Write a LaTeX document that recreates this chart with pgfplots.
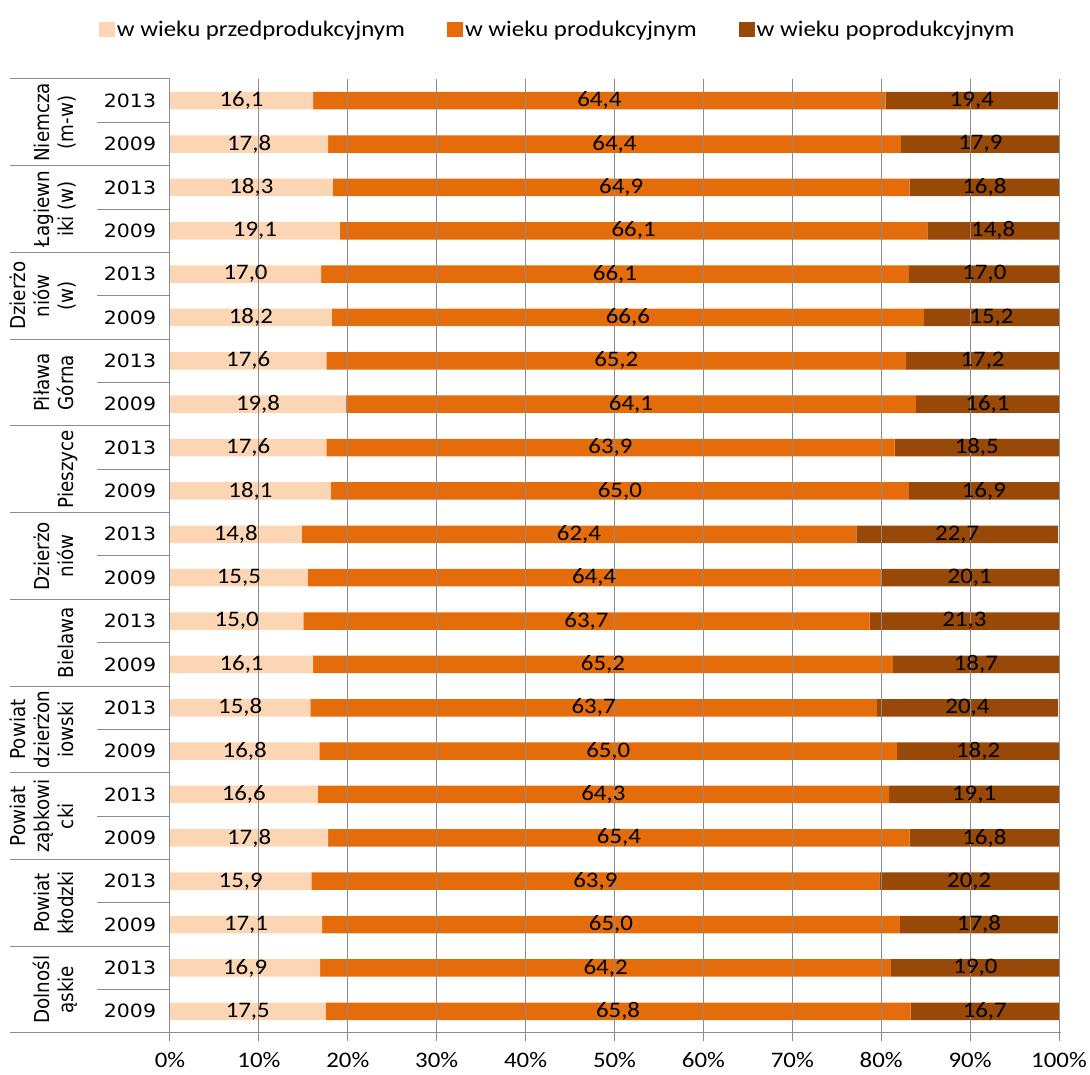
\documentclass[border=0pt]{standalone}
\usepackage{fontspec}
\setmainfont[FakeStretch=1.12]{Carlito}
\newfontfamily\yearfont[FakeStretch=1.12]{DejaVu Sans}
\newfontfamily\grpfont{DejaVu Sans}
\usepackage{pgfplots}
\usepackage{pgfplotstable}
\pgfplotsset{compat=1.18}

\definecolor{cLight}{RGB}{252,213,181}
\definecolor{cMid}{RGB}{228,108,10}
\definecolor{cDark}{RGB}{152,72,7}
\definecolor{gridc}{RGB}{140,140,140}

% rows from bottom (Dolnośląskie 2009) to top (Niemcza 2013)
\pgfplotstableread{
y a b c
0 17.5 65.8 16.7
1 16.9 64.2 19.0
2 17.1 65.0 17.8
3 15.9 63.9 20.2
4 17.8 65.4 16.8
5 16.6 64.3 19.1
6 16.8 65.0 18.2
7 15.8 63.7 20.4
8 16.1 65.2 18.7
9 15.0 63.7 21.3
10 15.5 64.4 20.1
11 14.8 62.4 22.7
12 18.1 65.0 16.9
13 17.6 63.9 18.5
14 19.8 64.1 16.1
15 17.6 65.2 17.2
16 18.2 66.6 15.2
17 17.0 66.1 17.0
18 19.1 66.1 14.8
19 18.3 64.9 16.8
20 17.8 64.4 17.9
21 16.1 64.4 19.4
}\data

\newcommand\mainsize{\fontsize{22.2}{26}\selectfont}

\begin{document}
\begin{tikzpicture}
\useasboundingbox (-170pt,-42pt) rectangle (920pt,1033pt);
\begin{axis}[
  at={(0pt,0pt)}, anchor=south west,
  scale only axis, width=890.78pt, height=954pt,
  xbar stacked, bar width=17.5pt,
  xmin=0, xmax=100.2, ymin=-0.5, ymax=21.5,
  axis on top,
  axis x line*=bottom, axis y line*=left,
  axis line style={draw=gridc, line width=1pt, -},
  xmajorgrids, grid style={draw=gridc, line width=1pt},
  xtick={0,10,...,100},
  xtick align=outside, major tick length=8pt,
  x tick style={draw=gridc, line width=1pt},
  xticklabel={\pgfmathprintnumber[assume math mode=true]{\tick}\%},
  xticklabel style={font=\mainsize, anchor=center, yshift=-19pt},
  ytick={0,...,21},
  yticklabels={2009,2013,2009,2013,2009,2013,2009,2013,2009,2013,2009,2013,2009,2013,2009,2013,2009,2013,2009,2013,2009,2013},
  y tick style={draw=none},
  yticklabel style={font=\yearfont\fontsize{18.3}{22}\selectfont, anchor=center, xshift=-40pt},
  visualization depends on=rawx\as\rawx,
  nodes near coords={\pgfmathprintnumber[fixed,fixed zerofill,precision=1,use comma,assume math mode=true]{\rawx}},
  every node near coord/.append style={font=\mainsize, anchor=center, text=black},
  legend columns=3,
  legend style={at={(0.4353,1.0515)}, anchor=center, draw=none, fill=none, font=\mainsize,
    /tikz/every even column/.append style={column sep=40pt}},
  legend image code/.code={\fill[#1] (0pt,-7.5pt) rectangle (16pt,7.5pt);},
]
\addplot[fill=cLight, draw=none] table[x=a, y=y] {\data};
\addplot[fill=cMid, draw=none] table[x=b, y=y] {\data};
\addplot[fill=cDark, draw=none] table[x=c, y=y] {\data};
\legend{w wieku przedprodukcyjnym, w wieku produkcyjnym, w wieku poprodukcyjnym}
\end{axis}
% category table lines
\foreach \k in {0,...,11} {
  \draw[gridc, line width=1pt] (-160pt, {\k*86.7273pt}) -- (0pt, {\k*86.7273pt});
}
\foreach \k in {0,...,10} {
  \draw[gridc, line width=1pt] (-73pt, {(2*\k+1)*43.3636pt}) -- (0pt, {(2*\k+1)*43.3636pt});
}
\tikzset{grp/.style={rotate=90, anchor=south, inner sep=0pt, text depth=0pt, align=center, transform shape, font=\grpfont\fontsize{18.3}{21.5}\selectfont}}
\begin{scope}[xscale=1.12]
\node[grp] at (-86.16pt, {1*43.3636pt}) {Dolnośl\\ąskie};
\node[grp] at (-86.16pt, {3*43.3636pt}) {Powiat\\kłodzki};
\node[grp] at (-86.16pt, {5*43.3636pt}) {Powiat\\ząbkowi\\cki};
\node[grp] at (-86.16pt, {7*43.3636pt}) {Powiat\\dzierżon\\iowski};
\node[grp] at (-86.16pt, {9*43.3636pt}) {Bielawa};
\node[grp] at (-86.16pt, {11*43.3636pt}) {Dzierżo\\niów};
\node[grp] at (-86.16pt, {13*43.3636pt}) {Pieszyce};
\node[grp] at (-86.16pt, {15*43.3636pt}) {Piława\\Górna};
\node[grp] at (-86.16pt, {17*43.3636pt}) {Dzierżo\\niów\\(w)};
\node[grp] at (-86.16pt, {19*43.3636pt}) {Łagiewn\\iki (w)};
\node[grp] at (-86.16pt, {21*43.3636pt}) {Niemcza\\(m-w)};
\end{scope}
\end{tikzpicture}
\end{document}
